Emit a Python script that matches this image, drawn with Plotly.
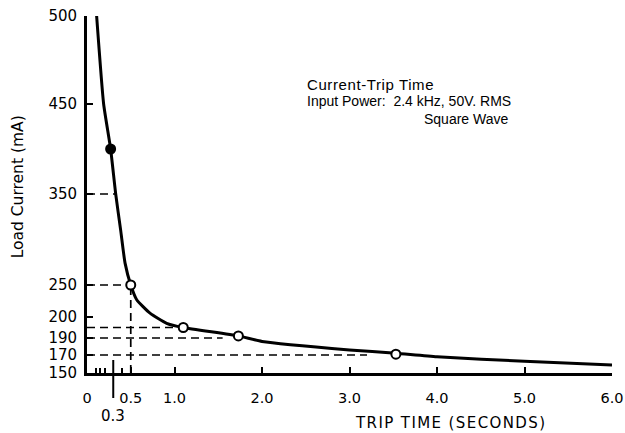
import numpy as np
import plotly.graph_objects as go

# ---- data ----
CURVE_TIME = [0.11, 0.19, 0.27, 0.328, 0.385, 0.435, 0.5, 0.568, 0.72, 0.91, 1.1, 1.73, 2.0, 3.0, 3.53, 4.0, 5.0, 6.0]
CURVE_CURRENT = [500, 450, 400, 350, 310, 274, 250, 227, 206, 197, 195, 191, 186, 176, 172, 168, 163, 159]

POINT_TIME = [0.27, 0.5, 1.1, 1.73, 3.53]
POINT_CURRENT = [400, 250, 195, 191, 171]
POINT_FILLED = [True, False, False, False, False]

GUIDE_CURRENT = [350, 250, 195, 190, 170]
GUIDE_END_TIME = [0.328, 0.5, 1.1, 1.55, 3.2]
VERTICAL_GUIDE_TIME = 0.5
VERTICAL_GUIDE_CURRENT = 250
MARKED_TIME = 0.3

Y_TICKS = [150, 170, 190, 200, 250, 350, 450, 500]
Y_TICK_TEXT = ["150", "170", "190", "200", "250", "350", "450", "500"]
# the chart's hand-drawn (non-uniform) vertical scale: position of each tick value
Y_AXIS_SCALE = [0, 18, 35, 56, 88, 179, 269, 357]

X_TICKS = [0, 0.5, 1, 2, 3, 4, 5, 6]
X_TICK_TEXT = ["0", "0.5", "1.0", "2.0", "3.0", "4.0", "5.0", "6.0"]
X_MINOR_TICKS = [0.1, 0.15, 0.2, 0.4]


def ys(v):
    return np.interp(np.asarray(v, dtype=float), Y_TICKS, Y_AXIS_SCALE)


FONT = "DejaVu Sans"
TXT = "Liberation Sans, Arial, sans-serif"
DASH = "8px,5px"

fig = go.Figure()

# dashed guide lines
for c, t in zip(GUIDE_CURRENT, GUIDE_END_TIME):
    fig.add_trace(go.Scatter(x=[0, t], y=ys([c, c]), mode="lines",
                             line=dict(color="black", width=1.7, dash=DASH),
                             showlegend=False, hoverinfo="skip"))
fig.add_trace(go.Scatter(x=[VERTICAL_GUIDE_TIME, VERTICAL_GUIDE_TIME],
                         y=ys([Y_TICKS[0], VERTICAL_GUIDE_CURRENT]), mode="lines",
                         line=dict(color="black", width=1.7, dash=DASH),
                         showlegend=False, hoverinfo="skip"))

# main curve
fig.add_trace(go.Scatter(x=CURVE_TIME, y=ys(CURVE_CURRENT), mode="lines",
                         line=dict(color="black", width=3, shape="spline", smoothing=0.5),
                         showlegend=False, hoverinfo="skip"))

# measured points
fig.add_trace(go.Scatter(
    x=POINT_TIME, y=ys(POINT_CURRENT), mode="markers",
    marker=dict(size=9, color=["black" if f else "white" for f in POINT_FILLED],
                line=dict(color="black", width=2)),
    showlegend=False, cliponaxis=False, hoverinfo="skip"))

# long tick at 0.3 s
fig.add_shape(type="line", xref="x", yref="paper", x0=MARKED_TIME, x1=MARKED_TIME,
              y0=-25 / 357, y1=13 / 357, line=dict(color="black", width=2))
fig.add_annotation(x=MARKED_TIME, y=0, xref="x", yref="y", yshift=-43, text="0.3",
                   xanchor="center", showarrow=False,
                   font=dict(family=FONT, size=15, color="black"))

# text block
fig.add_annotation(x=0.415, y=0.8095, xref="paper", yref="paper", xanchor="left", yanchor="middle",
                   text='<span style="letter-spacing:0.6px">Current-Trip Time</span>', showarrow=False,
                   font=dict(family=TXT, size=15, color="black"))
fig.add_annotation(x=0.415, y=0.762, xref="paper", yref="paper", xanchor="left", yanchor="middle",
                   text="Input Power:  2.4 kHz, 50V. RMS", showarrow=False,
                   font=dict(family=TXT, size=14, color="black"))
fig.add_annotation(x=0.638, y=0.711, xref="paper", yref="paper", xanchor="left", yanchor="middle",
                   text="Square Wave", showarrow=False,
                   font=dict(family=TXT, size=14, color="black"))

# axis titles
fig.add_annotation(x=-0.132, y=0.522, xref="paper", yref="paper", textangle=-90,
                   xanchor="center", yanchor="middle",
                   text="Load Current (mA)", showarrow=False,
                   font=dict(family=FONT, size=15.5, color="black"))
fig.add_annotation(x=0.693, y=-0.14, xref="paper", yref="paper", xanchor="center", yanchor="middle",
                   text='<span style="letter-spacing:1.4px">TRIP TIME (SECONDS)</span>',
                   showarrow=False, font=dict(family=FONT, size=15, color="black"))

fig.update_layout(
    width=625, height=433,
    margin=dict(l=87, r=13, t=16, b=60),
    paper_bgcolor="white", plot_bgcolor="white",
    xaxis=dict(range=[0, 6], showgrid=False, zeroline=False, automargin=False,
               showline=True, linecolor="black", linewidth=2.8,
               tickmode="array", tickvals=X_TICKS, ticktext=X_TICK_TEXT,
               ticks="inside", ticklen=6, tickwidth=2, tickcolor="black",
               ticklabelstandoff=10,
               tickfont=dict(family=FONT, size=14.5, color="black"),
               minor=dict(tickmode="array", tickvals=X_MINOR_TICKS, ticks="inside",
                          ticklen=5, tickwidth=1.5, tickcolor="black")),
    yaxis=dict(range=[0, Y_AXIS_SCALE[-1]], showgrid=False, zeroline=False, automargin=False,
               showline=True, linecolor="black", linewidth=2.8,
               tickmode="array", tickvals=list(ys(Y_TICKS)), ticktext=Y_TICK_TEXT,
               ticks="inside", ticklen=6, tickwidth=2, tickcolor="black",
               ticklabelstandoff=4,
               tickfont=dict(family=FONT, size=15, color="black")),
)

# remove the default page margin so the 625x433 figure fills the window exactly
fig.write_html("out.html", config={"displayModeBar": False},
               post_script="document.body.style.margin='0';")
